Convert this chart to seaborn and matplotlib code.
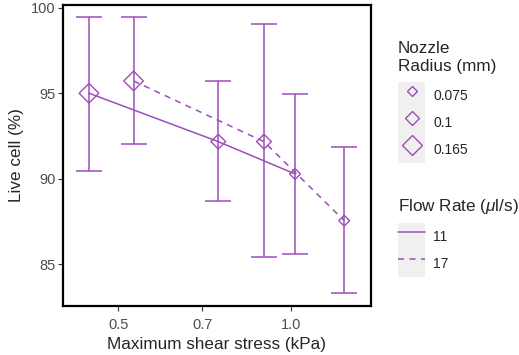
import numpy as np
import pandas as pd
import matplotlib
matplotlib.use("Agg")
import matplotlib.pyplot as plt
from matplotlib.lines import Line2D
from matplotlib.patches import Rectangle
from matplotlib.legend_handler import HandlerLine2D
import seaborn as sns

# data
shear = [0.445, 0.532, 0.747, 0.897, 1.016, 1.237]
live = [95.0, 95.72, 92.17, 92.17, 90.28, 87.55]
err_lo = [90.47, 92.04, 88.72, 85.44, 85.6, 83.3]
err_hi = [99.44, 99.44, 95.74, 99.05, 94.94, 91.88]
radius = [0.165, 0.165, 0.1, 0.1, 0.075, 0.075]
flow = [11, 17, 11, 17, 11, 17]

radius_levels = [0.075, 0.1, 0.165]
flow_levels = [11, 17]

df = pd.DataFrame({"shear": shear, "live": live, "lo": err_lo, "hi": err_hi,
                   "radius": radius, "flow": flow})

purple = "#9E4DB8"
ms = {0.075: 5.5, 0.1: 7.5, 0.165: 10.0}

sns.set_style("ticks")
plt.rcParams["font.family"] = ["Liberation Sans", "DejaVu Sans"]
plt.rcParams["mathtext.fontset"] = "custom"
plt.rcParams["mathtext.it"] = "Liberation Sans:italic"
plt.rcParams["mathtext.rm"] = "Liberation Sans"

fig = plt.figure(figsize=(5.19, 3.55), dpi=100)
ax = fig.add_axes([0.1214, 0.138, 0.593, 0.848])

ax.errorbar(df["shear"], df["live"],
            yerr=[df["live"] - df["lo"], df["hi"] - df["live"]],
            fmt="none", ecolor=purple, elinewidth=1.1, capsize=9.5, capthick=1.1)

sns.lineplot(data=df, x="shear", y="live", style="flow",
             dashes={11: "", 17: (4, 3.5)}, color=purple, linewidth=1.1,
             legend=False, ax=ax)

sns.scatterplot(data=df, x="shear", y="live", size="radius",
                sizes={k: v ** 2 for k, v in ms.items()}, marker="D",
                facecolor="none", edgecolor=purple, linewidth=1.0,
                legend=False, ax=ax, zorder=5)

ax.set_xscale("log")
ax.set_xlim(0.401, 1.376)
ax.set_ylim(82.56, 100.16)
ax.set_xticks([0.5, 0.7, 1.0])
ax.set_xticklabels(["0.5", "0.7", "1.0"])
ax.xaxis.set_minor_locator(matplotlib.ticker.NullLocator())
ax.set_yticks([85, 90, 95, 100])
ax.tick_params(axis="both", length=3.5, width=0.8, color="#333333",
               labelcolor="#4D4D4D", labelsize=10.5)
ax.tick_params(axis="x", pad=5)
ax.tick_params(axis="y", pad=2)
for s in ax.spines.values():
    s.set_linewidth(1.6)
    s.set_color("black")
ax.set_xlabel("Maximum shear stress (kPa)", fontsize=12.3, labelpad=3.5)
ax.set_ylabel("Live cell (%)", fontsize=12.3, labelpad=5)


class KeyBg(HandlerLine2D):
    def create_artists(self, legend, orig_handle, xdescent, ydescent,
                       width, height, fontsize, trans):
        bg = Rectangle((-xdescent, -ydescent), width, height,
                       facecolor="#F0F0F0", edgecolor="none", transform=trans)
        arts = super().create_artists(legend, orig_handle, xdescent, ydescent,
                                      width, height, fontsize, trans)
        return [bg] + list(arts)


size_handles = [Line2D([], [], linestyle="none", marker="D", markersize=ms[r],
                       markerfacecolor="none", markeredgecolor=purple,
                       markeredgewidth=1.0) for r in radius_levels]
flow_handles = [Line2D([], [], color=purple, linewidth=1.1,
                       linestyle="-" if f == 11 else (0, (4, 3.5)))
                for f in flow_levels]

common = dict(frameon=False, fontsize=10, title_fontsize=12.3, labelspacing=0,
              handleheight=2.61, handlelength=1.94, handletextpad=0.6,
              borderpad=0, borderaxespad=0, alignment="left", loc="upper left",
              bbox_transform=fig.transFigure)

leg1 = ax.legend(size_handles, [str(r) for r in radius_levels],
                 title="Nozzle\nRadius (mm)", bbox_to_anchor=(0.767, 0.884),
                 handler_map={Line2D: KeyBg(numpoints=1)}, **common)
leg1._legend_box.sep = 6
ax.add_artist(leg1)
leg2 = ax.legend(flow_handles, [str(f) for f in flow_levels],
                 title=r"Flow Rate ($\mu$l/s)", bbox_to_anchor=(0.767, 0.444),
                 handler_map={Line2D: KeyBg(numpoints=1)}, **common)
leg2._legend_box.sep = 5

fig.savefig("out.png", dpi=100)
